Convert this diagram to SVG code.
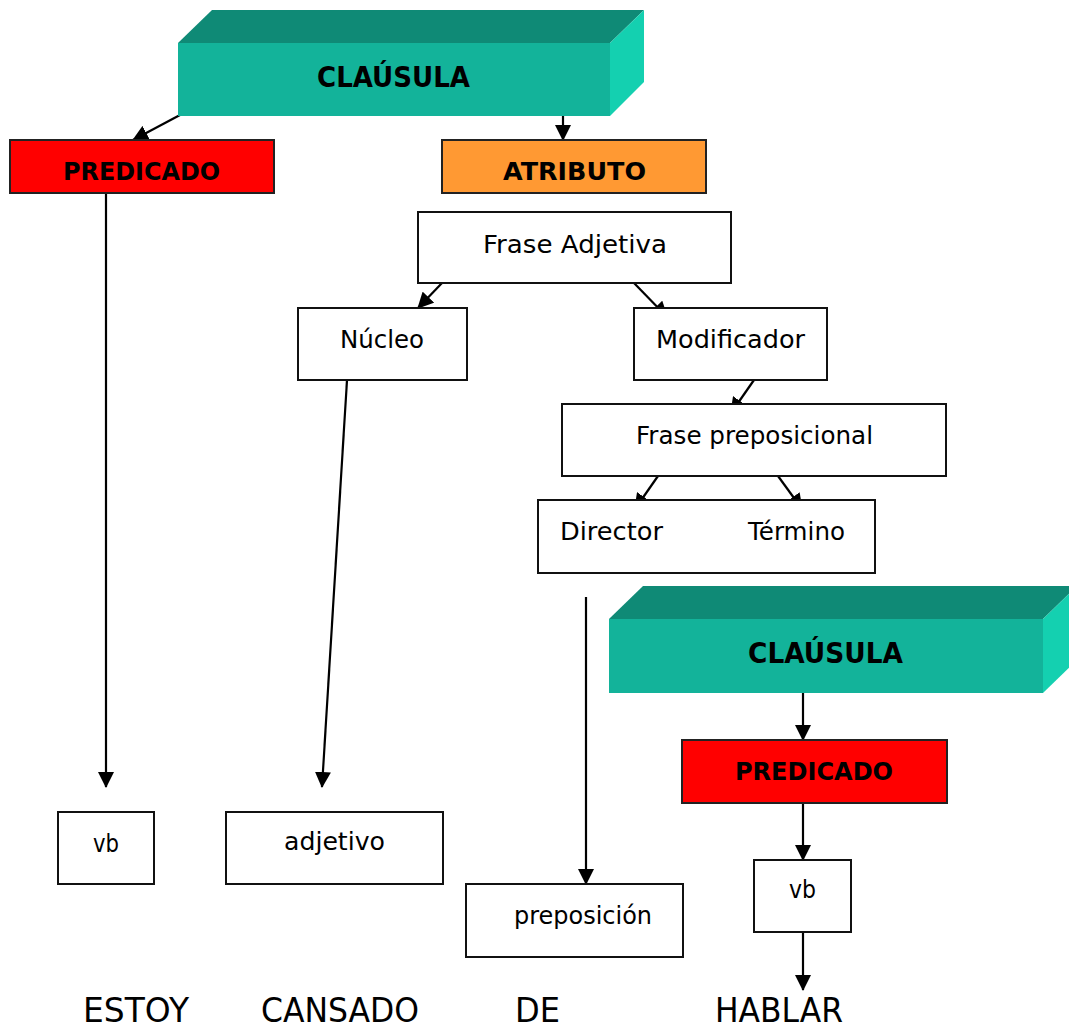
<svg xmlns="http://www.w3.org/2000/svg" width="1069" height="1029" viewBox="0 0 1069 1029">
<style>
.box{fill:#fff;stroke:#111;stroke-width:2}
.red{fill:#ff0000;stroke:#222;stroke-width:2}
.orange{fill:#ff9933;stroke:#222;stroke-width:2}
.front{fill:#13b39a}
.top{fill:#0f8a76}
.side{fill:#14d0b0}
.t{font-family:"DejaVu Sans","Liberation Sans",sans-serif;font-size:25px;fill:#000}
.b{font-family:"DejaVu Sans","Liberation Sans",sans-serif;font-size:25px;font-weight:bold;fill:#000}
.big{font-family:"DejaVu Sans","Liberation Sans",sans-serif;font-size:33px;fill:#000}
.c{stroke:#000;stroke-width:2.2;fill:none;marker-end:url(#ah)}
</style>
<defs>
<marker id="ah" markerUnits="userSpaceOnUse" viewBox="0 0 16 16" markerWidth="16" markerHeight="16" refX="15" refY="8" orient="auto">
<path d="M0,0 L16,8 L0,16 z" fill="#000"/>
</marker>
</defs>
<rect width="1069" height="1029" fill="#fff"/>

<g id="connectors">
<line class="c" x1="180" y1="115" x2="133" y2="140"/>
<line class="c" x1="563" y1="116" x2="563" y2="140"/>
<line class="c" x1="106" y1="188" x2="106" y2="787"/>
<line class="c" x1="442" y1="283" x2="418" y2="308"/>
<line class="c" x1="634" y1="283" x2="667" y2="317"/>
<line class="c" x1="347" y1="380" x2="322" y2="787"/>
<line class="c" x1="754" y1="380" x2="731" y2="413"/>
<line class="c" x1="658" y1="476" x2="635" y2="509"/>
<line class="c" x1="778" y1="476" x2="802" y2="509"/>
<line class="c" x1="586" y1="597" x2="586" y2="884"/>
<line class="c" x1="803" y1="693" x2="803" y2="740"/>
<line class="c" x1="803" y1="788" x2="803" y2="860"/>
<line class="c" x1="803" y1="932" x2="803" y2="990"/>
</g>

<g id="clausula1">
<polygon class="top" points="178,43 212,10 644,10 610,43"/>
<polygon class="side" points="610,43 644,10 644,82 610,116"/>
<rect class="front" x="178" y="43" width="432" height="73"/>
<text class="b" x="317" y="87" textLength="153" lengthAdjust="spacingAndGlyphs" style="font-size:29px">CLAÚSULA</text>
</g>

<g id="predicado1">
<rect class="red" x="10" y="140" width="264" height="53"/>
<text class="b" x="63" y="180" textLength="157" lengthAdjust="spacingAndGlyphs">PREDICADO</text>
</g>

<g id="atributo">
<rect class="orange" x="442" y="140" width="264" height="53"/>
<text class="b" x="503" y="180" textLength="143" lengthAdjust="spacingAndGlyphs">ATRIBUTO</text>
</g>

<g id="frase-adjetiva">
<rect class="box" x="418" y="212" width="313" height="71"/>
<text class="t" x="483" y="253" textLength="184" lengthAdjust="spacingAndGlyphs">Frase Adjetiva</text>
</g>

<g id="nucleo">
<rect class="box" x="298" y="308" width="169" height="72"/>
<text class="t" x="340" y="348" textLength="84" lengthAdjust="spacingAndGlyphs">Núcleo</text>
</g>

<g id="modificador">
<rect class="box" x="634" y="308" width="193" height="72"/>
<text class="t" x="656" y="348" textLength="149" lengthAdjust="spacingAndGlyphs">Modificador</text>
</g>

<g id="frase-preposicional">
<rect class="box" x="562" y="404" width="384" height="72"/>
<text class="t" x="636" y="444" textLength="237" lengthAdjust="spacingAndGlyphs">Frase preposicional</text>
</g>

<g id="director-termino">
<rect class="box" x="538" y="500" width="337" height="73"/>
<text class="t" x="560" y="540" textLength="103" lengthAdjust="spacingAndGlyphs">Director</text>
<text class="t" x="748" y="540" textLength="97" lengthAdjust="spacingAndGlyphs">Término</text>
</g>

<g id="clausula2">
<polygon class="top" points="609,619 643,586 1077,586 1043,619"/>
<polygon class="side" points="1043,619 1077,586 1077,660 1043,693"/>
<rect class="front" x="609" y="619" width="434" height="74"/>
<text class="b" x="748" y="663" textLength="155" lengthAdjust="spacingAndGlyphs" style="font-size:29px">CLAÚSULA</text>
</g>

<g id="predicado2">
<rect class="red" x="682" y="740" width="265" height="63"/>
<text class="b" x="735" y="780" textLength="158" lengthAdjust="spacingAndGlyphs">PREDICADO</text>
</g>

<g id="vb1">
<rect class="box" x="58" y="812" width="96" height="72"/>
<text class="t" x="93" y="852" textLength="26" lengthAdjust="spacingAndGlyphs">vb</text>
</g>

<g id="adjetivo">
<rect class="box" x="226" y="812" width="217" height="72"/>
<text class="t" x="284" y="850" textLength="101" lengthAdjust="spacingAndGlyphs">adjetivo</text>
</g>

<g id="preposicion">
<rect class="box" x="466" y="884" width="217" height="73"/>
<text class="t" x="514" y="924" textLength="138" lengthAdjust="spacingAndGlyphs">preposición</text>
</g>

<g id="vb2">
<rect class="box" x="754" y="860" width="97" height="72"/>
<text class="t" x="789" y="898" textLength="27" lengthAdjust="spacingAndGlyphs">vb</text>
</g>

<g id="words">
<text class="big" x="83" y="1022" textLength="106" lengthAdjust="spacingAndGlyphs">ESTOY</text>
<text class="big" x="261" y="1022" textLength="158" lengthAdjust="spacingAndGlyphs">CANSADO</text>
<text class="big" x="515" y="1022" textLength="45" lengthAdjust="spacingAndGlyphs">DE</text>
<text class="big" x="715" y="1022" textLength="128" lengthAdjust="spacingAndGlyphs">HABLAR</text>
</g>
</svg>
